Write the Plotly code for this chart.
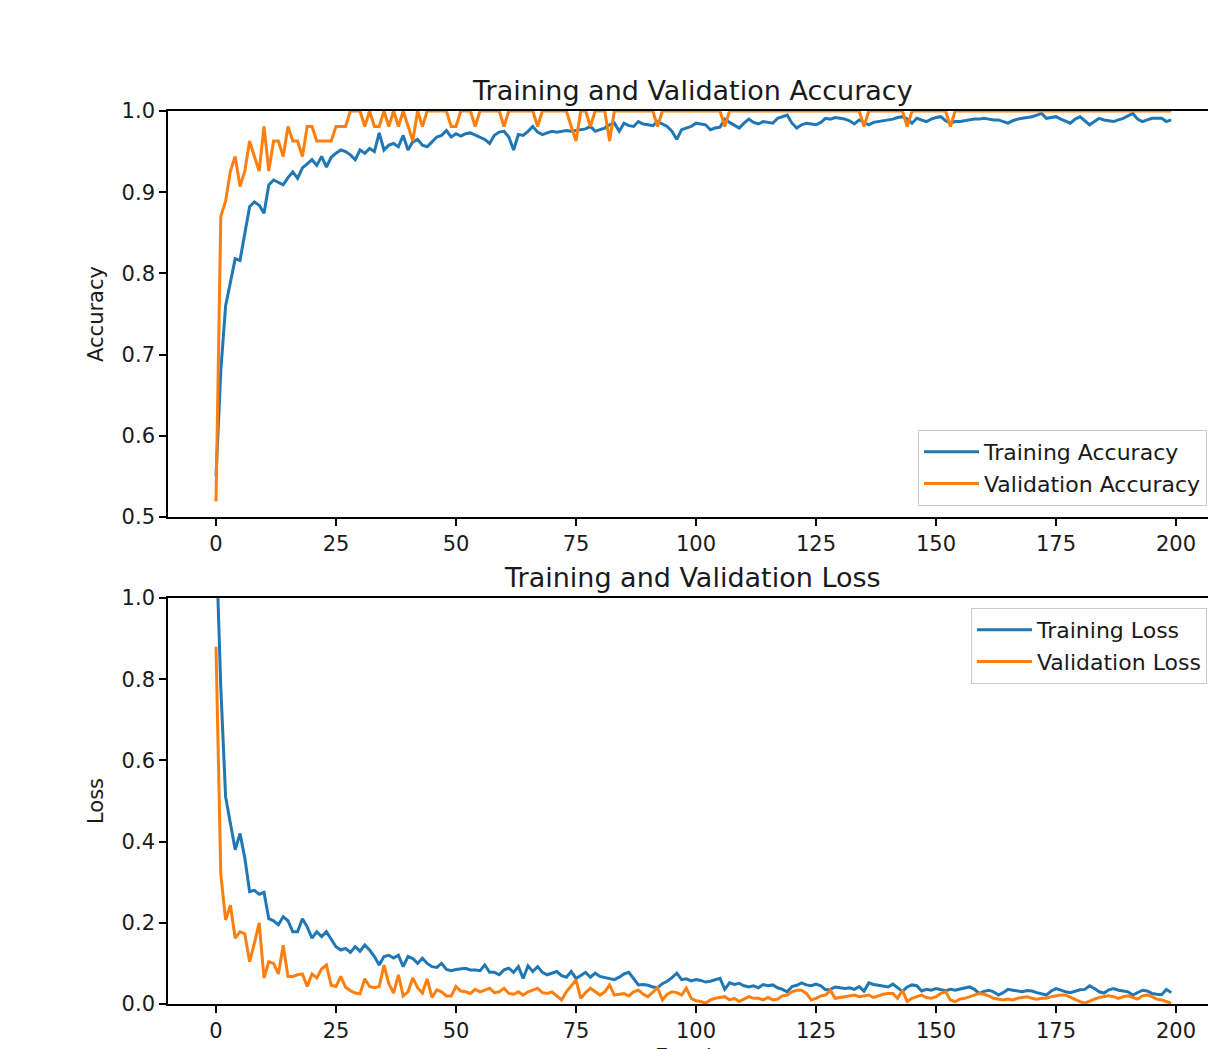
import plotly.graph_objects as go

epochs = list(range(200))

train_acc = [
    0.55, 0.68, 0.76, 0.79, 0.818, 0.816, 0.85, 0.882, 0.888, 0.884,
    0.874, 0.909, 0.915, 0.912, 0.909, 0.918, 0.925, 0.917, 0.93, 0.935,
    0.94, 0.933, 0.944, 0.931, 0.943, 0.948, 0.952, 0.95, 0.946, 0.94,
    0.952, 0.948, 0.954, 0.95, 0.973, 0.952, 0.958, 0.96, 0.956, 0.97,
    0.952, 0.962, 0.965, 0.958, 0.956, 0.962, 0.968, 0.97, 0.976, 0.968,
    0.972, 0.969, 0.972, 0.973, 0.97, 0.968, 0.965, 0.96, 0.97, 0.974,
    0.975, 0.968, 0.952, 0.971, 0.97, 0.975, 0.981, 0.974, 0.971, 0.973,
    0.975, 0.974, 0.975, 0.976, 0.975, 0.976, 0.977, 0.978, 0.981, 0.975,
    0.977, 0.979, 0.983, 0.985, 0.975, 0.985, 0.982, 0.981, 0.987, 0.984,
    0.983, 0.982, 0.987, 0.984, 0.981, 0.975, 0.965, 0.977, 0.979, 0.981,
    0.985, 0.984, 0.983, 0.977, 0.979, 0.98, 0.99, 0.986, 0.983, 0.979,
    0.985, 0.99, 0.986, 0.984, 0.987, 0.986, 0.985, 0.991, 0.993, 0.995,
    0.985, 0.979, 0.983, 0.985, 0.984, 0.983, 0.986, 0.991, 0.99, 0.992,
    0.991, 0.99, 0.988, 0.984, 0.989, 0.986, 0.983, 0.986, 0.987, 0.988,
    0.989, 0.99, 0.992, 0.993, 0.99, 0.985, 0.991, 0.989, 0.987, 0.99,
    0.992, 0.993, 0.988, 0.985, 0.987, 0.987, 0.988, 0.989, 0.99, 0.99,
    0.991, 0.99, 0.989, 0.989, 0.987, 0.985, 0.988, 0.99, 0.991, 0.992,
    0.993, 0.995, 0.997, 0.991, 0.992, 0.993, 0.99, 0.987, 0.985, 0.99,
    0.993, 0.988, 0.983, 0.987, 0.991, 0.989, 0.988, 0.987, 0.989, 0.991,
    0.994, 0.997, 0.99, 0.987, 0.989, 0.991, 0.991, 0.991, 0.987, 0.989,
]

val_acc = [
    0.519, 0.870, 0.889, 0.926, 0.944, 0.907, 0.926, 0.963, 0.944, 0.926,
    0.981, 0.926, 0.963, 0.963, 0.944, 0.981, 0.963, 0.963, 0.944, 0.981,
    0.981, 0.963, 0.963, 0.963, 0.963, 0.981, 0.981, 0.981, 1.0, 1.0,
    1.0, 0.981, 1.0, 0.981, 0.981, 1.0, 0.981, 1.0, 0.981, 1.0,
    0.981, 0.963, 1.0, 0.981, 1.0, 1.0, 1.0, 1.0, 1.0, 0.981,
    0.981, 1.0, 1.0, 1.0, 0.981, 1.0, 1.0, 1.0, 1.0, 1.0,
    0.981, 1.0, 1.0, 1.0, 1.0, 1.0, 1.0, 0.981, 1.0, 1.0,
    1.0, 1.0, 1.0, 1.0, 0.981, 0.963, 1.0, 1.0, 0.981, 1.0,
    1.0, 1.0, 0.963, 1.0, 1.0, 1.0, 1.0, 1.0, 1.0, 1.0,
    1.0, 1.0, 0.981, 1.0, 1.0, 1.0, 1.0, 1.0, 1.0, 1.0,
    1.0, 1.0, 1.0, 1.0, 1.0, 1.0, 0.981, 1.0, 1.0, 1.0,
    1.0, 1.0, 1.0, 1.0, 1.0, 1.0, 1.0, 1.0, 1.0, 1.0,
    1.0, 1.0, 1.0, 1.0, 1.0, 1.0, 1.0, 1.0, 1.0, 1.0,
    1.0, 1.0, 1.0, 1.0, 1.0, 0.981, 1.0, 1.0, 1.0, 1.0,
    1.0, 1.0, 1.0, 1.0, 0.981, 1.0, 1.0, 1.0, 1.0, 1.0,
    1.0, 1.0, 1.0, 0.981, 1.0, 1.0, 1.0, 1.0, 1.0, 1.0,
    1.0, 1.0, 1.0, 1.0, 1.0, 1.0, 1.0, 1.0, 1.0, 1.0,
    1.0, 1.0, 1.0, 1.0, 1.0, 1.0, 1.0, 1.0, 1.0, 1.0,
    1.0, 1.0, 1.0, 1.0, 1.0, 1.0, 1.0, 1.0, 1.0, 1.0,
    1.0, 1.0, 1.0, 1.0, 1.0, 1.0, 1.0, 1.0, 1.0, 1.0,
]

train_loss = [
    1.15, 0.78, 0.51, 0.44, 0.38, 0.42, 0.36, 0.277, 0.28, 0.27,
    0.275, 0.21, 0.205, 0.195, 0.215, 0.205, 0.178, 0.178, 0.21, 0.19,
    0.162, 0.178, 0.166, 0.178, 0.16, 0.141, 0.133, 0.137, 0.127, 0.141,
    0.13, 0.145, 0.133, 0.117, 0.096, 0.117, 0.12, 0.113, 0.12, 0.092,
    0.117, 0.112, 0.10, 0.113, 0.10, 0.092, 0.09, 0.10, 0.085, 0.082,
    0.085, 0.086, 0.088, 0.084, 0.084, 0.082, 0.096, 0.078, 0.078, 0.072,
    0.084, 0.088, 0.078, 0.092, 0.063, 0.094, 0.08, 0.092, 0.078, 0.072,
    0.076, 0.08, 0.07, 0.066, 0.08, 0.063, 0.07, 0.078, 0.066, 0.076,
    0.068, 0.065, 0.063, 0.06, 0.066, 0.074, 0.078, 0.062, 0.047, 0.048,
    0.046, 0.042, 0.04, 0.05, 0.056, 0.065, 0.076, 0.06, 0.062, 0.057,
    0.06, 0.058, 0.054, 0.056, 0.06, 0.063, 0.036, 0.052, 0.048, 0.051,
    0.045, 0.042, 0.045, 0.04, 0.048, 0.045, 0.047, 0.04, 0.036, 0.03,
    0.043, 0.046, 0.052, 0.047, 0.045, 0.049, 0.045, 0.035, 0.036, 0.042,
    0.04, 0.038, 0.04, 0.036, 0.043, 0.032, 0.052, 0.048, 0.046, 0.044,
    0.042, 0.049, 0.04, 0.031, 0.042, 0.047, 0.045, 0.032, 0.036, 0.034,
    0.038, 0.036, 0.033, 0.036, 0.034, 0.037, 0.04, 0.042, 0.036, 0.026,
    0.031, 0.034, 0.03, 0.022, 0.028, 0.036, 0.034, 0.032, 0.03, 0.033,
    0.032, 0.028, 0.025, 0.022, 0.032, 0.038, 0.034, 0.03, 0.028, 0.032,
    0.035, 0.036, 0.045, 0.038, 0.03, 0.027, 0.035, 0.038, 0.034, 0.032,
    0.03, 0.022, 0.028, 0.034, 0.032, 0.026, 0.024, 0.023, 0.036, 0.028,
]

val_loss = [
    0.88, 0.32, 0.207, 0.243, 0.162, 0.178, 0.173, 0.104, 0.15, 0.20,
    0.064, 0.104, 0.10, 0.074, 0.145, 0.068, 0.068, 0.072, 0.074, 0.043,
    0.074, 0.064, 0.086, 0.096, 0.046, 0.043, 0.068, 0.041, 0.033, 0.027,
    0.025, 0.062, 0.043, 0.04, 0.043, 0.096, 0.05, 0.027, 0.072, 0.02,
    0.03, 0.064, 0.04, 0.027, 0.062, 0.016, 0.035, 0.03, 0.02, 0.02,
    0.043, 0.032, 0.03, 0.026, 0.036, 0.03, 0.034, 0.039, 0.028, 0.03,
    0.039, 0.026, 0.024, 0.03, 0.022, 0.03, 0.034, 0.039, 0.028, 0.026,
    0.03, 0.02, 0.01, 0.03, 0.045, 0.059, 0.014, 0.028, 0.039, 0.03,
    0.022, 0.03, 0.047, 0.022, 0.024, 0.026, 0.02, 0.03, 0.034, 0.024,
    0.018, 0.03, 0.04, 0.01, 0.024, 0.03, 0.028, 0.022, 0.039, 0.014,
    0.008, 0.006, 0.002, 0.01, 0.014, 0.016, 0.018, 0.01, 0.014, 0.006,
    0.012, 0.018, 0.014, 0.014, 0.01, 0.016, 0.01, 0.012, 0.02, 0.022,
    0.03, 0.034, 0.034, 0.026, 0.01, 0.014, 0.02, 0.022, 0.034, 0.014,
    0.016, 0.018, 0.02, 0.022, 0.018, 0.02, 0.022, 0.016, 0.02, 0.024,
    0.026, 0.026, 0.014, 0.034, 0.006, 0.014, 0.018, 0.022, 0.016, 0.014,
    0.018, 0.026, 0.03, 0.01, 0.006, 0.012, 0.014, 0.018, 0.022, 0.026,
    0.024, 0.02, 0.014, 0.012, 0.01, 0.012, 0.01, 0.014, 0.016, 0.018,
    0.014, 0.012, 0.014, 0.014, 0.018, 0.02, 0.022, 0.022, 0.016, 0.01,
    0.006, 0.002, 0.008, 0.012, 0.016, 0.018, 0.02, 0.018, 0.014, 0.018,
    0.02, 0.016, 0.012, 0.02, 0.022, 0.018, 0.012, 0.01, 0.006, 0.002,
]

x_ticks = [0, 25, 50, 75, 100, 125, 150, 175, 200]
acc_ticks = [0.5, 0.6, 0.7, 0.8, 0.9, 1.0]
loss_ticks = [0.0, 0.2, 0.4, 0.6, 0.8, 1.0]

BLUE = "#1f77b4"
ORANGE = "#ff7f0e"
FONT = "DejaVu Sans"
OFF = 8                      # page body margin
W, H = 1216 - OFF, 1049 - OFF
PL, PR = 168, 1216           # plot area in page pixels

def py(pix):
    return (1049 - pix) / H

def px(pix):
    return (pix - PL) / (PR - PL)

LW = 3
fig = go.Figure()
fig.add_trace(go.Scatter(x=epochs, y=train_acc, mode="lines", name="Training Accuracy",
                         line=dict(color=BLUE, width=LW), xaxis="x", yaxis="y", legend="legend"))
fig.add_trace(go.Scatter(x=epochs, y=val_acc, mode="lines", name="Validation Accuracy",
                         line=dict(color=ORANGE, width=LW), xaxis="x", yaxis="y", legend="legend"))
fig.add_trace(go.Scatter(x=epochs, y=train_loss, mode="lines", name="Training Loss",
                         line=dict(color=BLUE, width=LW), xaxis="x2", yaxis="y2", legend="legend2"))
fig.add_trace(go.Scatter(x=epochs, y=val_loss, mode="lines", name="Validation Loss",
                         line=dict(color=ORANGE, width=LW), xaxis="x2", yaxis="y2", legend="legend2"))

axis_common = dict(showline=True, linecolor="black", linewidth=1.6, ticks="outside",
                   ticklen=7, tickwidth=1.6, tickcolor="black", showgrid=False, zeroline=False,
                   automargin=False,
                   tickfont=dict(family=FONT, size=21, color="#1a1a1a"))

xr = [-10, -10 + (PR - PL) / 4.8]

legend_common = dict(bgcolor="rgba(255,255,255,0.85)", bordercolor="#cccccc", borderwidth=1,
                     font=dict(family=FONT, size=22, color="#1a1a1a"), tracegroupgap=0,
                     itemwidth=55)

fig.update_layout(
    width=W, height=H,
    margin=dict(l=PL - OFF, r=0, t=0, b=0, autoexpand=False),
    paper_bgcolor="white", plot_bgcolor="white",
    font=dict(family=FONT, color="#1a1a1a"),
    xaxis=dict(domain=[0, 1], range=xr, tickvals=x_ticks, anchor="y", mirror=True, **axis_common),
    yaxis=dict(domain=[py(517), py(111)], range=[0.5, 1.0], tickvals=acc_ticks, tickformat=".1f",
               anchor="x", title=dict(text="Accuracy", font=dict(family=FONT, size=21), standoff=12),
               **axis_common),
    xaxis2=dict(domain=[0, 1], range=xr, tickvals=x_ticks, anchor="y2", mirror=True, **axis_common),
    yaxis2=dict(domain=[py(1004), py(598)], range=[0.0, 1.0], tickvals=loss_ticks, tickformat=".1f",
                anchor="x2", title=dict(text="Loss", font=dict(family=FONT, size=21), standoff=12),
                **axis_common),
    legend=dict(x=px(1207), y=py(506), xanchor="right", yanchor="bottom", **legend_common),
    legend2=dict(x=px(1207), y=py(608), xanchor="right", yanchor="top", **legend_common),
    showlegend=True,
    annotations=[
        dict(text="Training and Validation Accuracy", xref="paper", yref="paper",
             x=px(692), y=py(111), xanchor="center", yanchor="bottom", yshift=3,
             showarrow=False, font=dict(family=FONT, size=27, color="#1a1a1a")),
        dict(text="Training and Validation Loss", xref="paper", yref="paper",
             x=px(692), y=py(598), xanchor="center", yanchor="bottom", yshift=3,
             showarrow=False, font=dict(family=FONT, size=27, color="#1a1a1a")),
        dict(text="Epochs", xref="paper", yref="paper",
             x=px(692), y=py(1049), xanchor="center", yanchor="top", yshift=6,
             showarrow=False, font=dict(family=FONT, size=21, color="#1a1a1a")),
    ],
)

fig.write_html("out.html")
